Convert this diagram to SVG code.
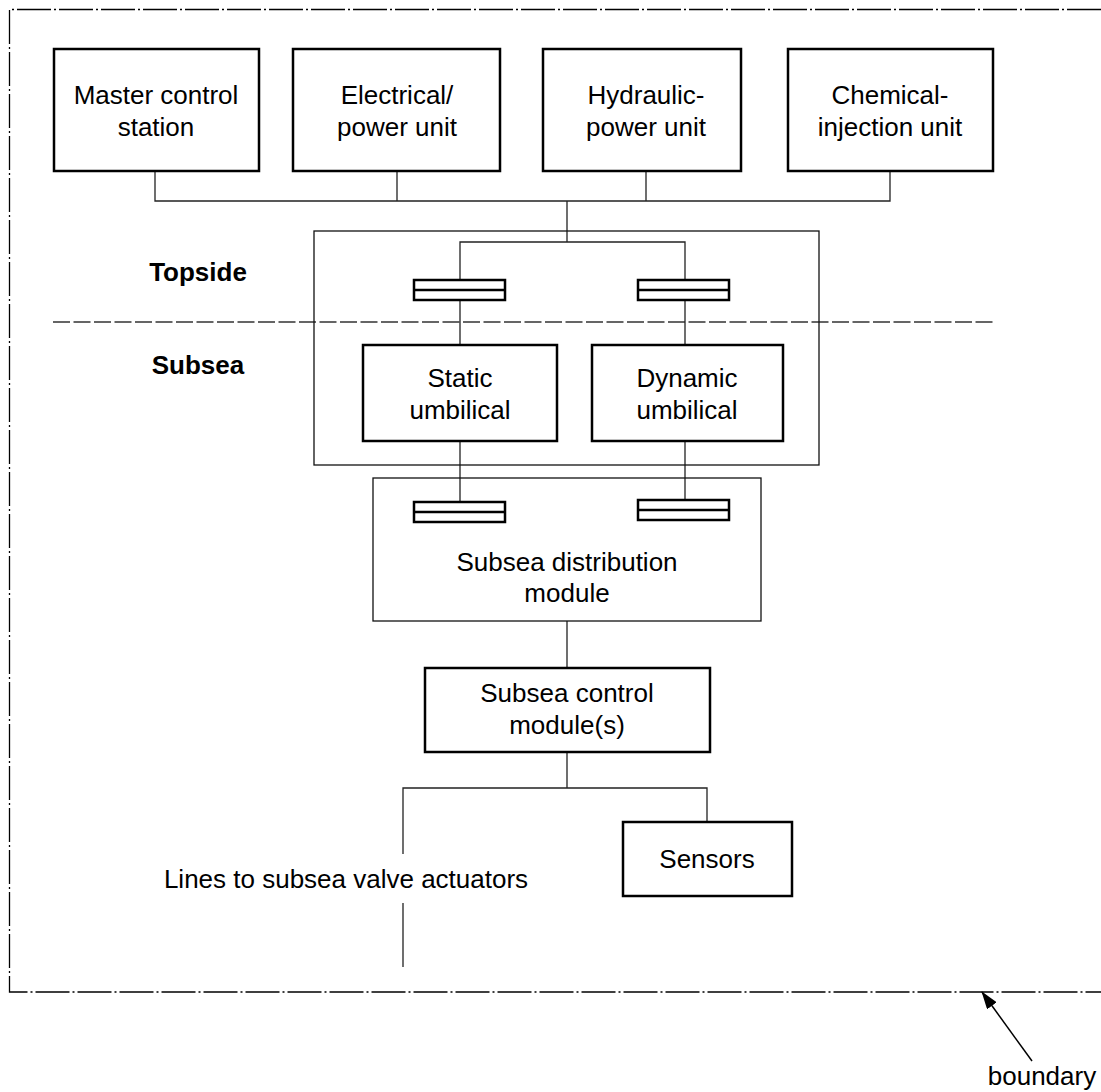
<svg xmlns="http://www.w3.org/2000/svg" width="1101" height="1092" viewBox="0 0 1101 1092">
<style>
text{font-family:"Liberation Sans",Arial,sans-serif;font-size:26px;fill:#000;text-anchor:middle}
.b{font-weight:bold}
.box{fill:#fff;stroke:#000;stroke-width:2.5}
.frame{fill:none;stroke:#111;stroke-width:1.3}
.ln{fill:none;stroke:#222;stroke-width:1.3}
.cpl{fill:#fff;stroke:#000;stroke-width:2.5}
.bnd{fill:none;stroke:#000;stroke-width:1.3;stroke-dasharray:34 3 2 3}
.dash{fill:none;stroke:#333;stroke-width:1.5;stroke-dasharray:17 3.5}
</style>
<defs>
<marker id="ah" markerWidth="18" markerHeight="12" refX="17" refY="6" orient="auto" markerUnits="userSpaceOnUse">
<path d="M0,0 L18,6 L0,12 Z" fill="#000"/>
</marker>
</defs>
<rect width="1101" height="1092" fill="#fff"/>
<path class="bnd" d="M1101,9.5 H9.5 V992 H1101"/>
<line class="dash" x1="53" y1="322" x2="995" y2="322"/>
<g id="connectors">
<path class="ln" d="M155,171 V201 H890 V171 M397,171 V201 M646,171 V201 M567,201 V242 M460,280 V242 H685 V280"/>
<path class="ln" d="M460,300 V345 M685,300 V345 M460,441 V501 M685,441 V499"/>
<path class="ln" d="M567,621 V668 M567,752 V788 M403,854 V788 H707 V822 M403,903 V967"/>
<line x1="1032" y1="1061" x2="982" y2="992" stroke="#000" stroke-width="1.5" marker-end="url(#ah)"/>
</g>
<g id="topside-subsea-frame"><rect class="frame" x="314" y="231" width="505" height="234"/></g>
<g id="sdm">
<rect class="frame" x="373" y="478" width="388" height="143"/>
<text x="567" y="571">Subsea distribution</text>
<text x="567" y="602">module</text>
</g>
<g id="mcs"><rect class="box" x="54" y="49" width="205" height="122"/><text x="156" y="104">Master control</text><text x="156" y="136">station</text></g>
<g id="epu"><rect class="box" x="293" y="49" width="207" height="122"/><text x="397" y="104">Electrical/</text><text x="397" y="136">power unit</text></g>
<g id="hpu"><rect class="box" x="543" y="49" width="198" height="122"/><text x="646" y="104">Hydraulic-</text><text x="646" y="136">power unit</text></g>
<g id="ciu"><rect class="box" x="788" y="49" width="205" height="122"/><text x="890" y="104">Chemical-</text><text x="890" y="136">injection unit</text></g>
<g id="coupler-top-left"><rect class="cpl" x="414" y="280" width="91" height="20"/><line x1="414" y1="290" x2="505" y2="290" stroke="#000" stroke-width="2.5"/></g>
<g id="coupler-top-right"><rect class="cpl" x="638" y="280" width="91" height="20"/><line x1="638" y1="290" x2="729" y2="290" stroke="#000" stroke-width="2.5"/></g>
<g id="coupler-sdm-left"><rect class="cpl" x="414" y="502" width="91" height="20"/><line x1="414" y1="512" x2="505" y2="512" stroke="#000" stroke-width="2.5"/></g>
<g id="coupler-sdm-right"><rect class="cpl" x="638" y="500" width="91" height="20"/><line x1="638" y1="510" x2="729" y2="510" stroke="#000" stroke-width="2.5"/></g>
<g id="static"><rect class="box" x="363" y="345" width="194" height="96"/><text x="460" y="387">Static</text><text x="460" y="419">umbilical</text></g>
<g id="dynamic"><rect class="box" x="592" y="345" width="191" height="96"/><text x="687" y="387">Dynamic</text><text x="687" y="419">umbilical</text></g>
<g id="scm"><rect class="box" x="425" y="668" width="285" height="84"/><text x="567" y="702">Subsea control</text><text x="567" y="734">module(s)</text></g>
<g id="sensors"><rect class="box" x="623" y="822" width="169" height="74"/><text x="707" y="868">Sensors</text></g>
<g id="labels">
<text class="b" x="198" y="281">Topside</text>
<text class="b" x="198" y="374">Subsea</text>
<text x="346" y="888">Lines to subsea valve actuators</text>
<text x="1042" y="1085">boundary</text>
</g>
</svg>
